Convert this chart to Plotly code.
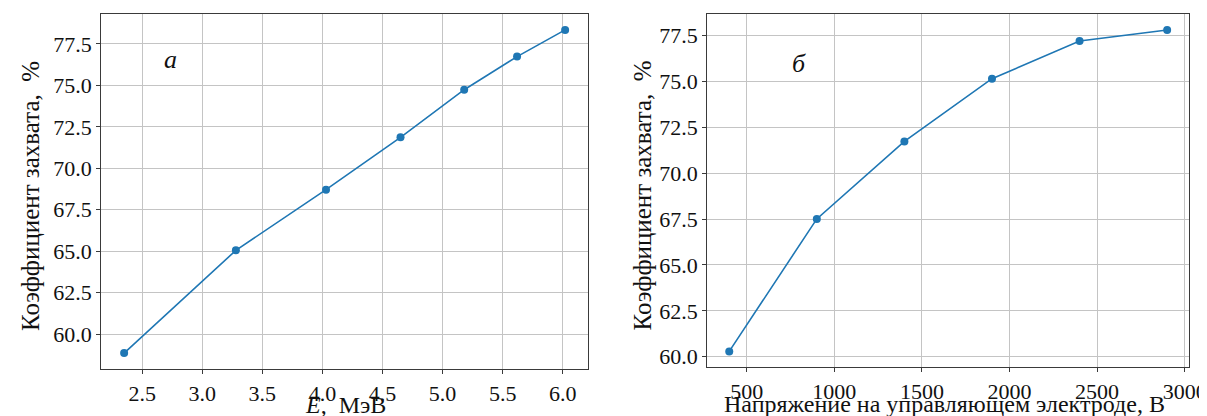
import plotly.graph_objects as go

# Panel a: capture coefficient vs energy
energy_mev = [2.35, 3.28, 4.03, 4.65, 5.18, 5.62, 6.02]
capture_a = [58.85, 65.05, 68.71, 71.87, 74.74, 76.74, 78.35]

# Panel б: capture coefficient vs control electrode voltage
voltage_v = [400, 900, 1400, 1900, 2400, 2900]
capture_b = [60.29, 67.51, 71.73, 75.15, 77.2, 77.8]

xticks_a = [2.5, 3.0, 3.5, 4.0, 4.5, 5.0, 5.5, 6.0]
xticks_b = [500, 1000, 1500, 2000, 2500, 3000]
yticks_a = [60.0, 62.5, 65.0, 67.5, 70.0, 72.5, 75.0, 77.5]
yticks_b = [60.0, 62.5, 65.0, 67.5, 70.0, 72.5, 75.0, 77.5]

panel_labels = ["a", "б"]
xtitle_a = "<i>E</i>,  МэВ"
xtitle_b = "Напряжение на управляющем электроде, В"
ytitle = "Коэффициент захвата,  %"

BLUE = "#1f77b4"
FONT = "Liberation Serif, Times New Roman, DejaVu Serif, serif"
TXT = "#111111"

fig = go.Figure()
fig.add_trace(go.Scatter(x=energy_mev, y=capture_a, mode="lines+markers",
                         line=dict(color=BLUE, width=1.6),
                         marker=dict(color=BLUE, size=8),
                         xaxis="x", yaxis="y", showlegend=False))
fig.add_trace(go.Scatter(x=voltage_v, y=capture_b, mode="lines+markers",
                         line=dict(color=BLUE, width=1.6),
                         marker=dict(color=BLUE, size=8),
                         xaxis="x2", yaxis="y2", showlegend=False))

axis_common = dict(showline=True, linecolor="#3a3a3a", linewidth=1.2, mirror=True,
                   ticks="outside", ticklen=4, tickcolor="#3a3a3a", tickwidth=1,
                   showgrid=True, gridcolor="#c4c4c4", gridwidth=1,
                   zeroline=False, tickfont=dict(family=FONT, size=22, color=TXT),
                   automargin=False)

fig.update_layout(
    width=1207, height=416,
    margin=dict(l=0, r=0, t=0, b=0),
    paper_bgcolor="white", plot_bgcolor="white",
    font=dict(family=FONT, color=TXT),
    xaxis=dict(domain=[0.0773, 0.4805], range=[2.16, 6.21],
               tickmode="array", tickvals=xticks_a,
               ticktext=[f"{v:.1f}" for v in xticks_a],
               anchor="y", **axis_common),
    yaxis=dict(domain=[0.1322, 0.9856], range=[57.89, 79.31],
               tickmode="array", tickvals=yticks_a,
               ticktext=[f"{v:.1f}" for v in yticks_a],
               anchor="x", **axis_common),
    xaxis2=dict(domain=[0.5794, 0.9785], range=[275, 3025],
                tickmode="array", tickvals=xticks_b,
                ticktext=[str(v) for v in xticks_b],
                anchor="y2", **axis_common),
    yaxis2=dict(domain=[0.1363, 0.9856], range=[59.425, 78.675],
                tickmode="array", tickvals=yticks_b,
                ticktext=[f"{v:.1f}" for v in yticks_b],
                anchor="x2", **axis_common),
    annotations=[
        dict(text=f"<i>{panel_labels[0]}</i>", x=2.74, y=76.55, xref="x", yref="y",
             showarrow=False, font=dict(family=FONT, size=26, color=TXT)),
        dict(text=f"<i>{panel_labels[1]}</i>", x=796, y=76.0, xref="x2", yref="y2",
             showarrow=False, font=dict(family=FONT, size=26, color=TXT)),
        # axis titles
        dict(text=xtitle_a, x=0.2796, y=0.046, xref="paper", yref="paper",
             xanchor="center", yanchor="middle", showarrow=False,
             font=dict(family=FONT, size=24, color=TXT)),
        dict(text=xtitle_b, x=0.776, y=0.049, xref="paper", yref="paper",
             xanchor="center", yanchor="middle", showarrow=False,
             font=dict(family=FONT, size=24, color=TXT)),
        dict(text=ytitle, x=0.0182, y=0.548, xref="paper", yref="paper",
             xanchor="center", yanchor="middle", textangle=-90, showarrow=False,
             font=dict(family=FONT, size=25, color=TXT)),
        dict(text=ytitle, x=0.5255, y=0.55, xref="paper", yref="paper",
             xanchor="center", yanchor="middle", textangle=-90, showarrow=False,
             font=dict(family=FONT, size=25, color=TXT)),
    ],
)

fig.write_html("out.html")
